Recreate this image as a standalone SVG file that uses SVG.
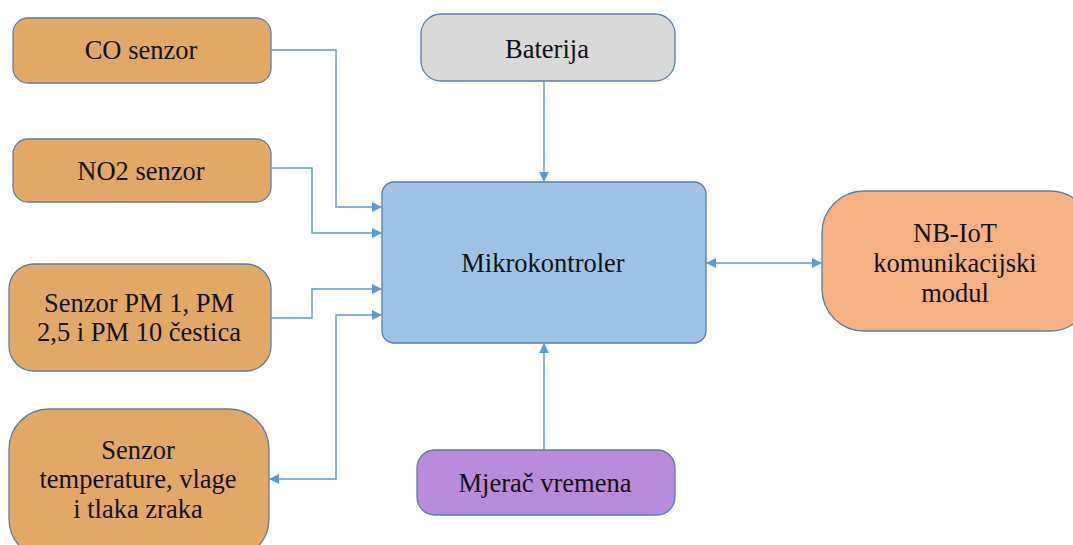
<svg xmlns="http://www.w3.org/2000/svg" width="1073" height="545" viewBox="0 0 1073 545">
<style>
.n{stroke:#5B7FA6;stroke-width:1.3}
.o{fill:#E2A865}
.t{font-family:'Liberation Serif','Times New Roman',serif;font-size:26.5px;fill:#111;text-anchor:middle}
.c{fill:none;stroke:#5B9BD5;stroke-width:1.4}
</style>
<defs>
<marker id="a" viewBox="0 0 10 10" refX="10" refY="5" markerWidth="10" markerHeight="10" markerUnits="userSpaceOnUse" orient="auto-start-reverse">
<path d="M0,0L10,5L0,10z" fill="#5B9BD5"/>
</marker>
</defs>
<rect width="1073" height="545" fill="#fff"/>
<g id="co"><rect class="n o" x="13" y="18" width="258" height="65" rx="15"/><text class="t" x="141" y="59">CO senzor</text></g>
<g id="no2"><rect class="n o" x="13" y="139" width="258" height="63" rx="15"/><text class="t" x="141" y="180">NO2 senzor</text></g>
<g id="pm"><rect class="n o" x="9" y="264" width="262" height="107" rx="25"/><text class="t" x="139" y="312">Senzor PM 1, PM</text><text class="t" x="139" y="341">2,5 i PM 10 čestica</text></g>
<g id="temp"><rect class="n o" x="9" y="409" width="260" height="150" rx="40"/><text class="t" x="138" y="459">Senzor</text><text class="t" x="138" y="488">temperature, vlage</text><text class="t" x="138" y="518">i tlaka zraka</text></g>
<g id="bat"><rect class="n" fill="#D9D9D9" x="421" y="14" width="254" height="67" rx="20"/><text class="t" x="547" y="58">Baterija</text></g>
<g id="mk"><rect class="n" fill="#9DC3E6" x="382" y="182" width="324" height="161" rx="12"/><text class="t" x="543" y="272">Mikrokontroler</text></g>
<g id="nb"><rect class="n" fill="#F4B183" x="822" y="191" width="270" height="140" rx="42"/><text class="t" x="955" y="242">NB-IoT</text><text class="t" x="955" y="272">komunikacijski</text><text class="t" x="955" y="302">modul</text></g>
<g id="mj"><rect class="n" fill="#B98BDB" x="417" y="450" width="258" height="65" rx="18"/><text class="t" x="545" y="492">Mjerač vremena</text></g>
<g id="connectors">
<path class="c" d="M271,50H336V207H382" marker-end="url(#a)"/>
<path class="c" d="M271,168H312V233H382" marker-end="url(#a)"/>
<path class="c" d="M271,318H312V289H382" marker-end="url(#a)"/>
<path class="c" d="M382,315H336V479H269" marker-start="url(#a)" marker-end="url(#a)"/>
<path class="c" d="M544,81V182" marker-end="url(#a)"/>
<path class="c" d="M544,450V343" marker-end="url(#a)"/>
<path class="c" d="M706,263H822" marker-start="url(#a)" marker-end="url(#a)"/>
</g>
</svg>
